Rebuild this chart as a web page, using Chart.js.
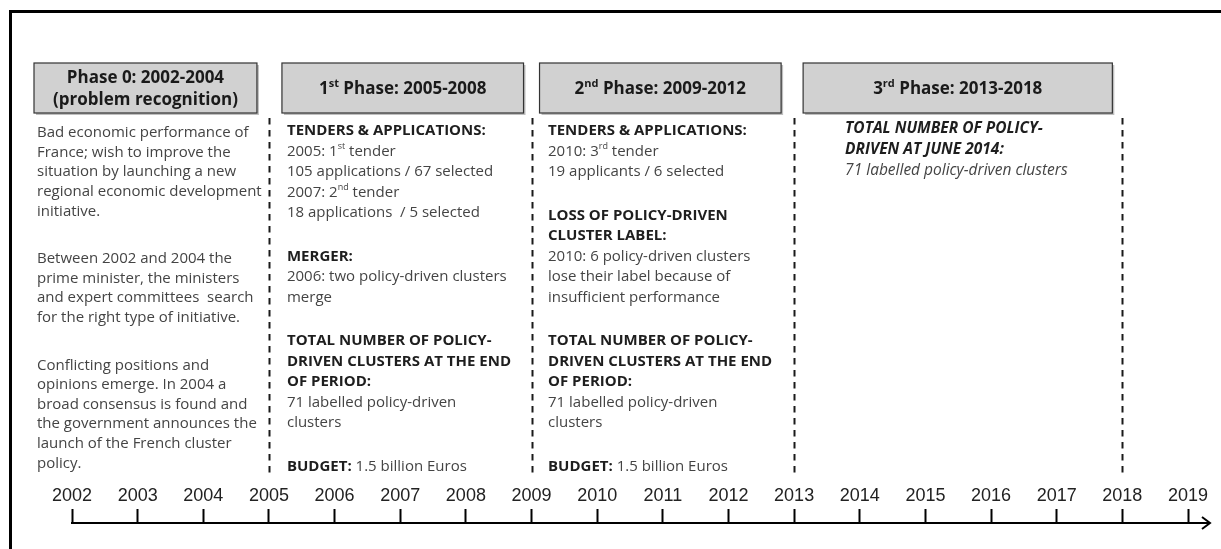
<!DOCTYPE html>
<html>
<head>
<meta charset="utf-8">
<script src="https://cdn.jsdelivr.net/npm/chart.js@4.4.1/dist/chart.umd.min.js"></script>
<style>
  html, body { margin: 0; padding: 0; background: #fff; }
  #wrap { width: 1221px; height: 549px; position: relative; }
</style>
</head>
<body>
<div id="wrap"><canvas id="timeline"></canvas></div>
<script>
// tick labels of the time axis
const years = [2002, 2003, 2004, 2005, 2006, 2007, 2008, 2009, 2010,
               2011, 2012, 2013, 2014, 2015, 2016, 2017, 2018, 2019];

// phases: start / end years, headers and notes (*bold*, _italic_, ^superscript^)
const phaseStart = [2002, 2005, 2009, 2013];
const phaseEnd = [2005, 2009, 2013, 2018];
const boundaryYears = [2005, 2009, 2013, 2018];
const phaseTitles = [
    ['Phase 0: 2002-2004', '(problem recognition)'],
    ['1^st^ Phase: 2005-2008'],
    ['2^nd^ Phase: 2009-2012'],
    ['3^rd^ Phase: 2013-2018']
];
const phase0Notes = [
    ['Bad economic performance of', 'France; wish to improve the', 'situation by launching a new',
     'regional economic development', 'initiative.'],
    ['Between 2002 and 2004 the', 'prime minister, the ministers', 'and expert committees  search',
     'for the right type of initiative.'],
    ['Conflicting positions and', 'opinions emerge. In 2004 a', 'broad consensus is found and',
     'the government announces the', 'launch of the French cluster', 'policy.']
];
const phase1Notes = [
    ['*TENDERS & APPLICATIONS:*', '2005: 1^st^ tender', '105 applications / 67 selected',
     '2007: 2^nd^ tender', '18 applications  / 5 selected'],
    ['*MERGER:*', '2006: two policy-driven clusters', 'merge'],
    ['*TOTAL NUMBER OF POLICY-*', '*DRIVEN CLUSTERS AT THE END*', '*OF PERIOD:*',
     '71 labelled policy-driven', 'clusters'],
    ['*BUDGET:* 1.5 billion Euros']
];
const phase2Notes = [
    ['*TENDERS & APPLICATIONS:*', '2010: 3^rd^ tender', '19 applicants / 6 selected'],
    ['*LOSS OF POLICY-DRIVEN*', '*CLUSTER LABEL:*', '2010: 6 policy-driven clusters',
     'lose their label because of', 'insufficient performance'],
    ['*TOTAL NUMBER OF POLICY-*', '*DRIVEN CLUSTERS AT THE END*', '*OF PERIOD:*',
     '71 labelled policy-driven', 'clusters'],
    ['*BUDGET:* 1.5 billion Euros']
];
const phase3Notes = [
    ['_*TOTAL NUMBER OF POLICY-*_', '_*DRIVEN AT JUNE 2014:*_', '_71 labelled policy-driven clusters_']
];
const phaseNotes = [phase0Notes, phase1Notes, phase2Notes, phase3Notes];

const FONT = '"Open Sans", "DejaVu Sans", sans-serif';

function parseRich(s) {
    const segs = [];
    let b = false, i = false, sup = false, cur = '';
    for (const ch of s) {
        if (ch === '*' || ch === '_' || ch === '^') {
            if (cur) segs.push({ t: cur, b, i, sup });
            cur = '';
            if (ch === '*') b = !b;
            else if (ch === '_') i = !i;
            else sup = !sup;
        } else {
            cur += ch;
        }
    }
    if (cur) segs.push({ t: cur, b, i, sup });
    return segs;
}

function segFont(seg, size, forceBold) {
    const sz = seg.sup ? Math.round(size * 0.62) : size;
    return (seg.i ? 'italic ' : '') + ((seg.b || forceBold) ? 'bold ' : '') + sz + 'px ' + FONT;
}

function drawRich(ctx, str, x, y, size, opts) {
    const segs = parseRich(str);
    let w = 0;
    segs.forEach(s => { ctx.font = segFont(s, size, opts.bold); s.w = ctx.measureText(s.t).width; w += s.w; });
    let cx = opts.align === 'center' ? x - w / 2 : x;
    ctx.textAlign = 'left';
    ctx.textBaseline = 'middle';
    segs.forEach(s => {
        ctx.font = segFont(s, size, opts.bold);
        ctx.fillStyle = (s.b || opts.bold) ? opts.headColor : opts.color;
        ctx.fillText(s.t, cx, s.sup ? y - size * 0.32 : y);
        cx += s.w;
    });
}

const timelinePlugin = {
    id: 'timeline',
    beforeDraw(chart) {
        const ctx = chart.ctx;
        ctx.save();
        ctx.fillStyle = '#fff';
        ctx.fillRect(0, 0, chart.width, chart.height);
        // frame
        ctx.fillStyle = '#000';
        ctx.fillRect(9, 10, chart.width - 9, 3);
        ctx.fillRect(9, 10, 3, chart.height - 10);
        ctx.restore();
    },
    afterDraw(chart) {
        const ctx = chart.ctx;
        const xs = chart.scales.x;
        const area = chart.chartArea;
        const X = v => xs.getPixelForValue(v);
        ctx.save();

        // arrow continuing the axis
        const ay = area.top;
        const tip = area.right + 22;
        ctx.strokeStyle = '#000';
        ctx.lineWidth = 2;
        ctx.beginPath();
        ctx.moveTo(area.right, ay);
        ctx.lineTo(tip, ay);
        ctx.moveTo(tip - 8, ay - 6);
        ctx.lineTo(tip, ay);
        ctx.lineTo(tip - 8, ay + 6);
        ctx.stroke();

        // dashed phase boundaries
        ctx.strokeStyle = '#1a1a1a';
        ctx.lineWidth = 2;
        ctx.setLineDash([6.5, 5.5]);
        boundaryYears.forEach(yr => {
            const x = Math.round(X(yr)) + 0.5;
            ctx.beginPath();
            ctx.moveTo(x, 118);
            ctx.lineTo(x, 478);
            ctx.stroke();
        });
        ctx.setLineDash([]);

        // phase header boxes
        const inset = [[-38, -12], [13, -8], [8, -13], [9, -10]];
        const titleOpts = { align: 'center', bold: true, color: '#1a1a1a', headColor: '#1a1a1a' };
        phaseTitles.forEach((title, k) => {
            const l = X(phaseStart[k]) + inset[k][0];
            const r = X(phaseEnd[k]) + inset[k][1];
            const t = 63, b = 113;
            ctx.fillStyle = 'rgba(0,0,0,0.25)';
            ctx.fillRect(l + 2, t + 2, r - l, b - t);
            ctx.fillStyle = '#d1d1d1';
            ctx.fillRect(l, t, r - l, b - t);
            ctx.strokeStyle = '#333';
            ctx.lineWidth = 1.2;
            ctx.strokeRect(l, t, r - l, b - t);
            const cx = (l + r) / 2;
            if (title.length === 2) {
                drawRich(ctx, title[0], cx, 78, 17, titleOpts);
                drawRich(ctx, title[1], cx, 100, 17, titleOpts);
            } else {
                drawRich(ctx, title[0], cx, 89, 17, titleOpts);
            }
        });

        // notes under each header
        const cols = [
            { dx: -35, y0: 133, lh: 19.6, gap: 28, size: 15 },
            { dx: 18, y0: 131, lh: 20.5, gap: 23, size: 15 },
            { dx: 16.5, y0: 131, lh: 20.5, gap: 23, size: 15 },
            { dx: 51, y0: 129, lh: 21, gap: 23, size: 15.5 }
        ];
        phaseNotes.forEach((paras, k) => {
            const c = cols[k];
            const x = X(phaseStart[k]) + c.dx;
            let y = c.y0;
            paras.forEach((lines, p) => {
                if (p > 0) y += c.gap;
                lines.forEach(line => {
                    drawRich(ctx, line, x, y, c.size, { align: 'left', color: '#444', headColor: '#1e1e1e' });
                    y += c.lh;
                });
            });
        });
        ctx.restore();
    }
};

new Chart(document.getElementById('timeline'), {
    type: 'scatter',
    data: { datasets: [] },
    options: {
        responsive: true,
        maintainAspectRatio: false,
        animation: false,
        events: [],
        layout: { padding: { left: 72, right: 33, top: 470, bottom: 6 } },
        plugins: { legend: { display: false }, tooltip: { enabled: false } },
        scales: {
            x: {
                type: 'linear',
                position: 'top',
                min: years[0],
                max: years[years.length - 1],
                afterFit: scale => { scale.height = 53; },
                border: { display: true, color: '#000', width: 2 },
                grid: { drawOnChartArea: false, drawTicks: true, tickLength: 14, tickWidth: 2, tickColor: '#000' },
                ticks: {
                    stepSize: 1,
                    autoSkip: false,
                    maxRotation: 0,
                    padding: 2,
                    color: '#222',
                    font: { family: '"Liberation Sans", Arial, sans-serif', size: 18 },
                    callback: v => years.includes(v) ? String(v) : ''
                }
            },
            y: { display: false, min: 0, max: 1 }
        }
    },
    plugins: [timelinePlugin]
});
</script>
</body>
</html>
